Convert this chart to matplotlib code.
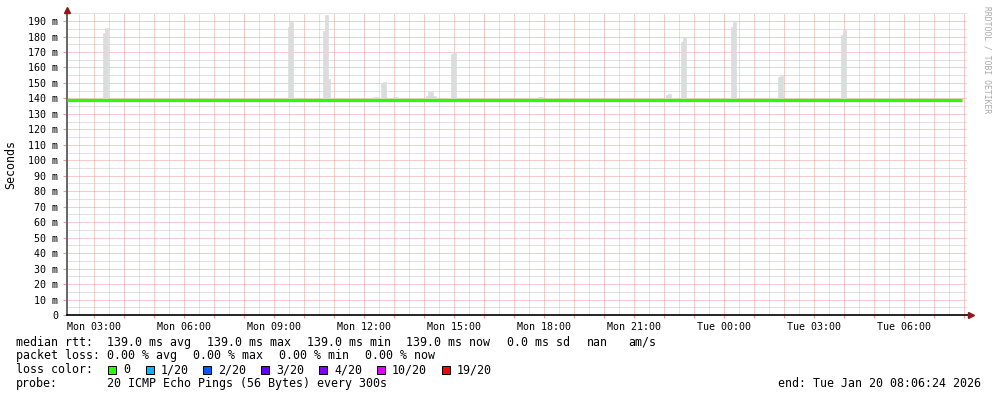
import matplotlib
matplotlib.use("Agg")
import matplotlib.pyplot as plt
import matplotlib.ticker as ticker
from matplotlib.patches import Rectangle

W, H = 997, 397

# --- data ---
x_start = "Mon 02:06:24"
x_end = "Tue 08:06:24"

median_times = ["Mon 02:06", "Tue 07:57"]
median_rtt = [139.0, 139.0]

# smoke (ping spread), one 5-minute sample each: start time, top value (ms)
smoke_times = ["Mon 03:18", "Mon 03:23", "Mon 09:28", "Mon 09:33",
               "Mon 10:38", "Mon 10:43", "Mon 10:48",
               "Mon 12:18", "Mon 12:23", "Mon 12:34", "Mon 12:39",
               "Mon 12:58", "Mon 13:03",
               "Mon 14:04", "Mon 14:09", "Mon 14:14", "Mon 14:19",
               "Mon 14:54", "Mon 14:59", "Mon 17:48", "Mon 17:53",
               "Mon 22:04", "Mon 22:09", "Mon 22:34", "Mon 22:39",
               "Tue 00:14", "Tue 00:19", "Tue 01:48", "Tue 01:53",
               "Tue 03:54", "Tue 03:59", "Tue 05:06", "Tue 05:11"]
smoke_tops = [182.2, 185.3, 186.3, 189.4,
              183.5, 193.9, 152.5,
              141.0, 141.0, 150.2, 150.6,
              141.0, 140.8,
              141.5, 144.1, 144.1, 141.5,
              168.5, 169.8, 141.0, 141.0,
              142.2, 142.8, 176.4, 179.7,
              186.1, 189.4, 153.8, 154.5,
              181.0, 184.2, 140.3, 140.3]
smoke_base = 139.0

loss_labels = ["0", "1/20", "2/20", "3/20", "4/20", "10/20", "19/20"]
loss_colors = ["#26ff00", "#00b8ff", "#0059ff", "#5e00ff", "#7e00ff", "#dd00ff", "#ff0000"]


def to_hours(s):
    day, hm = s.split(" ")
    parts = [int(p) for p in hm.split(":")]
    while len(parts) < 3:
        parts.append(0)
    h = parts[0] + parts[1] / 60 + parts[2] / 3600
    return h + (24 if day == "Tue" else 0)


MONO = "DejaVu Sans Mono"
plt.rcParams['font.family'] = MONO

fig = plt.figure(figsize=(W / 100, H / 100), dpi=100)
fig.patch.set_facecolor("white")
ax = fig.add_axes([67 / W, (H - 315) / H, 900 / W, (315 - 13) / H])

x0, x1 = to_hours(x_start), to_hours(x_end)
ax.set_xlim(x0, x1)
ax.set_ylim(0, 195.2)

# smoke
xs = [to_hours(t) for t in smoke_times]
ax.bar(xs, [t - smoke_base for t in smoke_tops], bottom=smoke_base, width=5 / 60,
       align="edge", color="#dcdcdc", edgecolor="#dcdcdc", linewidth=0.5, zorder=2)

# median line
ax.plot([to_hours(t) for t in median_times], median_rtt, color=loss_colors[0],
        lw=2.3, solid_capstyle="butt", zorder=3)

# grid, dotted like rrdtool
ax.set_axisbelow(True)
ax.xaxis.set_major_locator(ticker.MultipleLocator(1))
ax.xaxis.set_minor_locator(ticker.MultipleLocator(0.5))
ax.yaxis.set_major_locator(ticker.MultipleLocator(10))
ax.yaxis.set_minor_locator(ticker.MultipleLocator(5))
ax.grid(which="minor", color="#c4c4c4", lw=0.72, linestyle=(0, (1, 1)))
ax.grid(which="major", color="#e89a9a", lw=0.72, linestyle=(0, (1, 1)))


def xfmt(v, pos):
    h = int(round(v))
    if h % 3:
        return ""
    day = "Mon" if h < 24 else "Tue"
    return "%s %02d:00" % (day, h % 24)


def yfmt(v, pos):
    v = int(round(v))
    return "0" if v == 0 else "%d m" % v


ax.xaxis.set_major_formatter(ticker.FuncFormatter(xfmt))
ax.yaxis.set_major_formatter(ticker.FuncFormatter(yfmt))
ax.tick_params(axis="x", which="major", length=2, color="#e89a9a", pad=3, labelsize=7.2)
ax.tick_params(axis="y", which="major", length=3, color="#e89a9a", pad=3.5, labelsize=7.2)
ax.tick_params(which="minor", length=0)

for sp in ["top", "right", "bottom"]:
    ax.spines[sp].set_visible(False)
ax.spines["left"].set_color("#666666")
ax.spines["left"].set_linewidth(1.4)

# x axis line and arrows
ax.plot([0, 1.0045], [0, 0], transform=ax.transAxes, color="black", lw=1.2, clip_on=False, zorder=5)
ax.plot([1.0045], [0], transform=ax.transAxes, marker=">", color="#8b1a1a", ms=4.5,
        clip_on=False, zorder=6)
ax.plot([0], [1.01], transform=ax.transAxes, marker="^", color="#8b1a1a", ms=4.5,
        clip_on=False, zorder=6)


def ftext(x, y, s, **kw):
    kw.setdefault("fontsize", 8.4)
    kw.setdefault("va", "baseline")
    fig.text(x / W, 1 - y / H, s, family=MONO, **kw)


ftext(11, 164, "Seconds", rotation=90, ha="center", va="center")
ftext(987, 60, "RRDTOOL / TOBI OETIKER", rotation=-90, ha="center", va="center",
      fontsize=5.8, color="#a8a8a8")

# legend lines
ftext(16, 345.6, "median rtt:")
for x, s in zip([107, 207, 307, 406, 507, 587, 628],
                ["139.0 ms avg", "139.0 ms max", "139.0 ms min", "139.0 ms now",
                 "0.0 ms sd", "nan", "am/s"]):
    ftext(x, 345.6, s)

ftext(16, 359.4, "packet loss:")
for x, s in zip([107, 193, 279, 365],
                ["0.00 % avg", "0.00 % max", "0.00 % min", "0.00 % now"]):
    ftext(x, 359.4, s)

ftext(16, 373.4, "loss color:")
box_x = [108, 146, 203, 261, 319, 377, 442]
for bx, lab, col in zip(box_x, loss_labels, loss_colors):
    fig.patches.append(Rectangle((bx / W, 1 - 374 / H), 8 / W, 8 / H, transform=fig.transFigure,
                                 facecolor=col, edgecolor="black", lw=0.72))
    ftext(bx + 15, 373.4, lab)

ftext(16, 387.3, "probe:")
ftext(107, 387.3, "20 ICMP Echo Pings (56 Bytes) every 300s")
ftext(981, 387.3, "end: Tue Jan 20 08:06:24 2026", ha="right")

fig.savefig("out.png", dpi=100)
